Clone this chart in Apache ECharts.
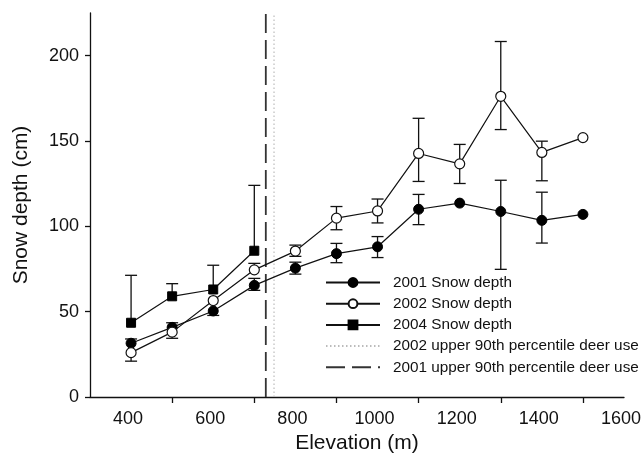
<!DOCTYPE html>
<html>
<head>
<meta charset="utf-8">
<script src="https://cdn.jsdelivr.net/npm/echarts@6/dist/echarts.min.js"></script>
<style>
  html, body { margin: 0; padding: 0; background: #fff; }
  #chart { width: 644px; height: 458px; }
</style>
</head>
<body>
<div id="chart"></div>
<script>
// elevations (m) where snow depth was sampled
const elevation = [400, 500, 600, 700, 800, 900, 1000, 1100, 1200, 1300, 1400, 1500];
const elevation2004 = [400, 500, 600, 700];

// mean snow depth (cm)
const depth2001 = [31.5, 40.8, 50.4, 65.4, 75.5, 84, 88, 110, 113.6, 108.7, 103.5, 107];
const depth2002 = [26, 38, 56.5, 74.5, 85.5, 104.8, 109, 142.7, 136.6, 176.2, 143.3, 152];
const depth2004 = [43.5, 59, 63, 85.7];

// error bar ends (null = not visible)
const upper2001 = [34, 43.5, null, 69.5, 79, 90, 94, 118.7, null, 127, 120, null];
const lower2001 = [null, null, 47.8, 62.5, 72, 78.7, 81.7, 101, null, 74.8, 90.2, null];
const upper2002 = [null, null, null, 78.3, 89, 111.6, 116, 163.3, 148, 208.3, 149.9, null];
const lower2002 = [21, 34.4, null, null, 82.4, 98, 102, 126.3, 125.1, 156.7, 126.7, null];
const upper2004 = [71.3, 66.4, 77.2, 124];
const lower2004 = [null, null, null, null];

// upper 90th percentile of deer use (m)
const deerUse2002 = 748;
const deerUse2001 = 728;

// axis labels / ticks
const xLabels = [400, 600, 800, 1000, 1200, 1400, 1600];
const xTicks = [500, 700, 900, 1100, 1300, 1500];
const yLabels = [0, 50, 100, 150, 200];

const font = 'Liberation Sans, Arial, sans-serif';

function pairs(xs, ys) {
    return xs.map((x, i) => [x, ys[i]]);
}

function errorSeries(name, xs, ys, up, lo) {
    return {
        name: name,
        type: 'custom',
        z: 1,
        silent: true,
        data: pairs(xs, ys),
        renderItem: function (params, api) {
            const i = params.dataIndex;
            const c = api.coord([api.value(0), api.value(1)]);
            const kids = [];
            const style = { stroke: '#111', lineWidth: 1.3 };
            [up[i], lo[i]].forEach(function (v) {
                if (v == null) return;
                const e = api.coord([api.value(0), v]);
                kids.push({ type: 'line', shape: { x1: c[0], y1: c[1], x2: e[0], y2: e[1] }, style: style });
                kids.push({ type: 'line', shape: { x1: e[0] - 6, y1: e[1], x2: e[0] + 6, y2: e[1] }, style: style });
            });
            return { type: 'group', children: kids };
        }
    };
}

// vertical lines: no marker in legend
const hidden = { color: 'rgba(0,0,0,0)', borderWidth: 0 };

const myChart = echarts.init(document.getElementById('chart'));
myChart.setOption({
    animation: false,
    textStyle: { fontFamily: font },
    grid: { left: 90, right: 20, top: 13, bottom: 61, outerBoundsMode: 'none' },
    legend: {
        orient: 'vertical',
        left: 325,
        top: 275,
        padding: 0,
        itemWidth: 54,
        itemHeight: 11,
        itemGap: 6.2,
        textStyle: { fontSize: 15.3, color: '#111', fontFamily: font, padding: [0, 0, 0, 8] },
        data: ['2001 Snow depth', '2002 Snow depth', '2004 Snow depth',
               '2002 upper 90th percentile deer use', '2001 upper 90th percentile deer use']
    },
    xAxis: {
        type: 'value',
        min: 300,
        max: 1600,
        name: 'Elevation (m)',
        nameLocation: 'middle',
        nameGap: 30,
        nameTextStyle: { fontSize: 21, color: '#111', fontFamily: font, verticalAlign: 'top' },
        axisLine: { lineStyle: { color: '#111', width: 1.3 } },
        axisTick: { show: true, length: 6, customValues: xTicks, lineStyle: { color: '#111', width: 1.3 } },
        axisLabel: {
            customValues: xLabels, showMaxLabel: true,
            margin: 13, fontSize: 18, color: '#111', fontFamily: font,
            padding: [0, 6, 0, 0],
            formatter: v => String(v)
        },
        splitLine: { show: false }
    },
    yAxis: {
        type: 'value',
        min: 0,
        max: 225,
        name: 'Snow depth (cm)',
        nameLocation: 'middle',
        nameGap: 58,
        nameTextStyle: { fontSize: 21, color: '#111', fontFamily: font },
        axisLine: { show: true, lineStyle: { color: '#111', width: 1.3 } },
        axisTick: { show: true, length: 5, customValues: yLabels, lineStyle: { color: '#111', width: 1.3 } },
        axisLabel: { customValues: yLabels, margin: 11, fontSize: 18, color: '#111', fontFamily: font },
        splitLine: { show: false }
    },
    series: [
        errorSeries('err2001', elevation, depth2001, upper2001, lower2001),
        errorSeries('err2002', elevation, depth2002, upper2002, lower2002),
        errorSeries('err2004', elevation2004, depth2004, upper2004, lower2004),
        {
            name: '2001 Snow depth',
            type: 'line',
            z: 3,
            data: pairs(elevation, depth2001),
            symbol: 'circle',
            symbolSize: 10,
            lineStyle: { color: '#111', width: 1.2 },
            itemStyle: { color: '#000', borderColor: '#000', borderWidth: 1 }
        },
        {
            name: '2002 Snow depth',
            type: 'line',
            z: 3,
            data: pairs(elevation, depth2002),
            symbol: 'circle',
            symbolSize: 10,
            lineStyle: { color: '#111', width: 1.2 },
            itemStyle: { color: '#fff', borderColor: '#111', borderWidth: 1.2 }
        },
        {
            name: '2004 Snow depth',
            type: 'line',
            z: 3,
            data: pairs(elevation2004, depth2004),
            symbol: 'rect',
            symbolSize: 9,
            lineStyle: { color: '#111', width: 1.2 },
            itemStyle: { color: '#000', borderColor: '#000', borderWidth: 1 }
        },
        {
            name: '2002 upper 90th percentile deer use',
            type: 'line',
            z: 2,
            data: [[deerUse2002, 0], [deerUse2002, 225]],
            symbol: 'none',
            lineStyle: { color: '#bbb', width: 1.2, type: [1.5, 2.5] },
            itemStyle: hidden
        },
        {
            name: '2001 upper 90th percentile deer use',
            type: 'line',
            z: 2,
            data: [[deerUse2001, 0], [deerUse2001, 225]],
            symbol: 'none',
            lineStyle: { color: '#333', width: 1.8, type: [19, 7] },
            itemStyle: hidden
        }
    ]
});
window.onresize = myChart.resize;
</script>
</body>
</html>
